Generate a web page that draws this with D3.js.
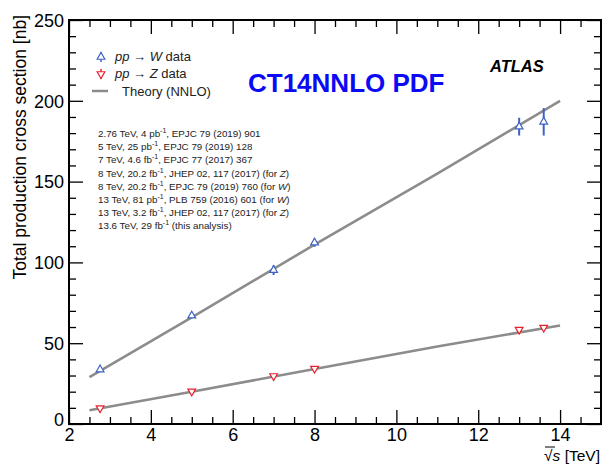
<!DOCTYPE html>
<html>
<head>
<meta charset="utf-8">
<script src="https://cdn.jsdelivr.net/npm/d3@7"></script>
<style>
  body { margin: 0; background: #fff; }
  text { font-family: "Liberation Sans", Arial, sans-serif; }
</style>
</head>
<body>
<div id="chart"></div>
<script>
// measured cross sections (nb)
var energies = [2.76, 5, 7, 8, 13, 13.6];
var wData = [33.7, 67.0, 95.2, 112.2, 184.0, 187.0];
var wErr = [1.0, 1.2, 3.0, 2.5, 5.5, 8.5];
var zData = [9.8, 20.2, 29.7, 34.3, 58.4, 59.7];
var zErr = [0.4, 0.5, 0.7, 0.8, 1.2, 1.3];

// theory (NNLO) curves
var theoryEnergy = [2.5, 5, 8, 11, 14];
var theoryW = [29, 66, 111, 155, 200];
var theoryZ = [8.5, 20, 34, 48, 61];

var refLines = [
    ["2.76 TeV, 4 pb", ", EPJC 79 (2019) 901"],
    ["5 TeV, 25 pb", ", EPJC 79 (2019) 128"],
    ["7 TeV, 4.6 fb", ", EPJC 77 (2017) 367"],
    ["8 TeV, 20.2 fb", ", JHEP 02, 117 (2017) (for ", "Z", ")"],
    ["8 TeV, 20.2 fb", ", EPJC 79 (2019) 760 (for ", "W", ")"],
    ["13 TeV, 81 pb", ", PLB 759 (2016) 601 (for ", "W", ")"],
    ["13 TeV, 3.2 fb", ", JHEP 02, 117 (2017) (for ", "Z", ")"],
    ["13.6 TeV, 29 fb", " (this analysis)"]
];

var xTicks = [2, 4, 6, 8, 10, 12, 14];
var yTicks = [0, 50, 100, 150, 200, 250];

var W = 603, H = 466;
var pl = 69, pr = 601, pt = 20, pb = 424;
var blue = "#3d62c4", red = "#e8202c", grey = "#8c8c8c";

var svg = d3.select("#chart").append("svg")
    .attr("width", W)
    .attr("height", H);

var x = d3.scaleLinear().domain([2, 15]).range([pl, pr]);
var y = d3.scaleLinear().domain([0, 250]).range([pb, pt]);

// theory lines
var line = d3.line()
    .x(function(d){ return x(d[0]); })
    .y(function(d){ return y(d[1]); });

svg.append("path")
    .datum(d3.zip(theoryEnergy, theoryW))
    .attr("d", line)
    .attr("fill", "none")
    .attr("stroke", grey)
    .attr("stroke-width", 2.6);
svg.append("path")
    .datum(d3.zip(theoryEnergy, theoryZ))
    .attr("d", line)
    .attr("fill", "none")
    .attr("stroke", grey)
    .attr("stroke-width", 2.6);

// markers
var tri = d3.symbol().type(d3.symbolTriangle).size(26);

function drawPoints(vals, errs, colour, down) {
    var g = svg.append("g");
    vals.forEach(function(v, i){
        var cx = x(energies[i]), cy = y(v);
        g.append("line")
            .attr("x1", cx).attr("x2", cx)
            .attr("y1", y(v + errs[i])).attr("y2", y(v - errs[i]))
            .attr("stroke", colour)
            .attr("stroke-width", 2);
        g.append("path")
            .attr("d", tri)
            .attr("transform", "translate(" + cx + "," + cy + ")" + (down ? " rotate(180)" : ""))
            .attr("fill", "#fff")
            .attr("stroke", colour)
            .attr("stroke-width", 1.2);
    });
}
drawPoints(wData, wErr, blue, false);
drawPoints(zData, zErr, red, true);

// frame
svg.append("rect")
    .attr("x", pl).attr("y", pt)
    .attr("width", pr - pl).attr("height", pb - pt)
    .attr("fill", "none")
    .attr("stroke", "#000")
    .attr("stroke-width", 2);

// axes with inner ticks
var xAxis = d3.axisBottom(x).tickValues(xTicks).tickSize(-14).tickPadding(4).tickFormat(d3.format("d"));
var gx = svg.append("g").attr("transform", "translate(0," + pb + ")").call(xAxis);
svg.append("g").attr("transform", "translate(0," + pt + ")")
    .call(d3.axisTop(x).tickValues(xTicks).tickSize(-14).tickFormat(""));
var xMinor = d3.range(2.5, 15, 0.5).filter(function(v){ return v % 2 !== 0; });
svg.append("g").attr("transform", "translate(0," + pb + ")")
    .call(d3.axisBottom(x).tickValues(xMinor).tickSize(-7).tickFormat(""));
svg.append("g").attr("transform", "translate(0," + pt + ")")
    .call(d3.axisTop(x).tickValues(xMinor).tickSize(-7).tickFormat(""));

var yAxis = d3.axisLeft(y).tickValues(yTicks).tickSize(-14).tickPadding(5);
var gy = svg.append("g").attr("transform", "translate(" + pl + ",0)").call(yAxis);
svg.append("g").attr("transform", "translate(" + pr + ",0)")
    .call(d3.axisRight(y).tickValues(yTicks).tickSize(-14).tickFormat(""));
var yMinor = d3.range(10, 250, 10).filter(function(v){ return v % 50 !== 0; });
svg.append("g").attr("transform", "translate(" + pl + ",0)")
    .call(d3.axisLeft(y).tickValues(yMinor).tickSize(-7).tickFormat(""));
svg.append("g").attr("transform", "translate(" + pr + ",0)")
    .call(d3.axisRight(y).tickValues(yMinor).tickSize(-7).tickFormat(""));

svg.selectAll(".domain").remove();
svg.selectAll(".tick line").attr("stroke", "#000").attr("stroke-width", 1.3);
svg.selectAll(".tick text")
    .attr("fill", "#000")
    .style("font-size", "18px")
    .style("font-family", "Liberation Sans, Arial, sans-serif");
gy.selectAll(".tick text").attr("dy", "0.35em");
gy.selectAll(".tick").filter(function(d){ return d === 0; }).select("text").attr("dy", "0.1em");
gx.selectAll(".tick text").attr("dy", "0.72em");

// axis titles
svg.append("text")
    .attr("transform", "translate(26,15) rotate(-90)")
    .attr("text-anchor", "end")
    .style("font-size", "17.5px")
    .attr("fill", "#000")
    .text("Total production cross section [nb]");

var xt = svg.append("text")
    .attr("x", 600).attr("y", 461)
    .attr("text-anchor", "end")
    .style("font-size", "15.5px")
    .attr("fill", "#000");
xt.append("tspan").text("\u221A");
xt.append("tspan").style("font-style", "italic").text("s");
xt.append("tspan").text("  [TeV]");
svg.append("line")
    .attr("x1", 545).attr("x2", 555)
    .attr("y1", 447).attr("y2", 447)
    .attr("stroke", "#000").attr("stroke-width", 1);

// legend
var legW = svg.append("g").attr("transform", "translate(101,57)");
legW.append("line").attr("y1", -5).attr("y2", 5).attr("stroke", blue).attr("stroke-width", 1.5);
legW.append("path").attr("d", tri).attr("fill", "#fff").attr("stroke", blue).attr("stroke-width", 1.2);
var legZ = svg.append("g").attr("transform", "translate(101,74)");
legZ.append("line").attr("y1", -5).attr("y2", 5).attr("stroke", red).attr("stroke-width", 1.5);
legZ.append("path").attr("d", tri).attr("transform", "rotate(180)").attr("fill", "#fff").attr("stroke", red).attr("stroke-width", 1.2);
svg.append("line").attr("x1", 92).attr("x2", 108).attr("y1", 91).attr("y2", 91)
    .attr("stroke", grey).attr("stroke-width", 2.5);

function legendText(yPos, boson) {
    var t = svg.append("text").attr("x", 115).attr("y", yPos)
        .style("font-size", "13px").attr("fill", "#222");
    t.append("tspan").style("font-style", "italic").text("pp");
    t.append("tspan").text(" \u2192 ");
    t.append("tspan").style("font-style", "italic").text(boson);
    t.append("tspan").text(" data");
}
legendText(61, "W");
legendText(78, "Z");
svg.append("text").attr("x", 122).attr("y", 96)
    .style("font-size", "13px").attr("fill", "#222")
    .text("Theory (NNLO)");

svg.append("text")
    .attr("x", 248).attr("y", 92)
    .style("font-size", "26px")
    .style("font-weight", "bold")
    .attr("fill", "#0a0af5")
    .text("CT14NNLO PDF");

svg.append("text")
    .attr("x", 490).attr("y", 72)
    .style("font-size", "16.5px")
    .style("font-weight", "bold")
    .style("font-style", "italic")
    .attr("fill", "#000")
    .text("ATLAS");

// references
refLines.forEach(function(r, i){
    var t = svg.append("text")
        .attr("x", 98).attr("y", 137 + i * 13.2)
        .style("font-size", "9.8px")
        .attr("fill", "#222");
    t.append("tspan").text(r[0]);
    t.append("tspan").attr("dy", -4).style("font-size", "7px").text("-1");
    t.append("tspan").attr("dy", 4).text(r[1]);
    if (r.length > 2) {
        t.append("tspan").style("font-style", "italic").text(r[2]);
        t.append("tspan").text(r[3]);
    }
});
</script>
</body>
</html>
